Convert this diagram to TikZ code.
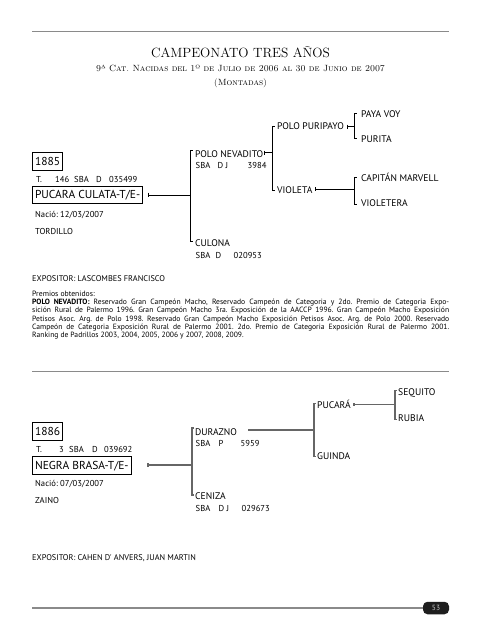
\documentclass[tikz,border=0pt]{standalone}
\usepackage{fontspec}
\newfontfamily\ps{PT Sans}
\newfontfamily\psn{PT Sans}
\newcommand\tb[2]{\makebox[0pt][l]{\hspace{#1pt}#2}}
\definecolor{rulegray}{HTML}{8A8A8A}
\definecolor{pillgray}{HTML}{1E1E1E}
\frenchspacing
\begin{document}
\begin{tikzpicture}[x=1pt,y=-1pt,
  t/.style={anchor=base west, inner sep=0pt, font=\ps\fontsize{9.6}{11}\selectfont},
  ts/.style={anchor=base west, inner sep=0pt, font=\ps\fontsize{8.6}{10}\selectfont},
  tx/.style={anchor=base west, inner sep=0pt, font=\ps\fontsize{8.3}{9}\selectfont},
  bx/.style={draw, line width=0.9pt, anchor=west, inner xsep=2.6pt, inner ysep=0pt,
    text height=8pt, text depth=0pt, font=\psn\fontsize{11.5}{13}\selectfont},
  hd/.style={anchor=base, inner sep=0pt},
  ln/.style={line width=0.8pt, draw=black},
  ln2/.style={line width=1.1pt, draw=black!60},
  rule/.style={line width=1.8pt, draw=rulegray},
]
\useasboundingbox (0,0) rectangle (481,640);

% rules
\coordinate (r1a) at (32,31.5); \coordinate (r1b) at (449,31.5);
\coordinate (r2a) at (32,371.5); \coordinate (r2b) at (449,371.5);
\coordinate (r3a) at (32,608);
\draw[rule] (r1a) -- (r1b);
\draw[rule] (r2a) -- (r2b);

% title
\node[hd, font=\fontsize{13.4}{15}\selectfont\addfontfeatures{FakeBold=1}] (title) at (240.5,57) {CAMPEONATO TRES AÑOS};
\node[hd, font=\fontsize{9}{11}\selectfont\scshape\addfontfeatures{FakeBold=0.8}] (sub) at (240.5,71) {9ª Cat. Nacidas del 1º de Julio de 2006 al 30 de Junio de 2007};
\node[hd, font=\fontsize{9}{11}\selectfont\scshape\addfontfeatures{FakeBold=0.8}] (mont) at (240.5,85.5) {(Montadas)};

% ---------- pedigree 1 ----------
\node[bx, minimum height=18pt] (n1885) at (32,161) {1885};
\node[ts] (reg1) at (35.5,182) {\tb{0}{T.}\tb{19}{146}\tb{38}{SBA}\tb{60}{D}\tb{73}{035499}};
\node[bx, minimum height=17pt] (pucara) at (32,194.5) {PUCARA CULATA-T/E-};
\node[ts] (nac1) at (35,217) {Nació: 12/03/2007};
\node[ts] (col1) at (35,234) {TORDILLO};

\node[t] (polonev) at (195,157) {POLO NEVADITO};
\node[ts] (polonevr) at (195,168.5) {\tb{0}{SBA}\tb{22}{D J}\tb{52}{3984}};
\node[t] (culona) at (195,246) {CULONA};
\node[ts] (culonar) at (195,258.5) {\tb{0}{SBA}\tb{20}{D}\tb{38}{020953}};

\node[t] (puripayo) at (277,129.5) {POLO PURIPAYO};
\node[t] (violeta) at (277,193) {VIOLETA};
\node[t] (payavoy) at (361,117) {PAYA VOY};
\node[t] (purita) at (361,142.5) {PURITA};
\node[t] (capitan) at (361,181) {CAPITÁN MARVELL};
\node[t] (violetera) at (361,206.5) {VIOLETERA};

% connectors ped 1
\coordinate (a0) at (148,195);   \coordinate (a1) at (190,195);
\coordinate (a1t) at (190,150);  \coordinate (a1b) at (190,241);
\draw[ln] (148,192.6) -- (148,197.4);
\draw[ln] (a0) -- (a1);
\draw[ln] ([xshift=2.5pt]a1t) -- (a1t) -- (a1b) -- ([xshift=2.5pt]a1b);

\coordinate (b0) at (264,152.5); \coordinate (b1) at (272,152.5);
\coordinate (b1t) at (272,126.5); \coordinate (b1b) at (272,190.5);
\draw[ln] (264,150.5) -- (264,154.5);
\draw[ln] (b0) -- (b1);
\draw[ln] ([xshift=2.5pt]b1t) -- (b1t) -- (b1b) -- ([xshift=2.5pt]b1b);

\coordinate (c0) at (347,126.5); \coordinate (c1) at (354,126.5);
\coordinate (c1t) at (354,113.5); \coordinate (c1b) at (354,138.5);
\draw[ln] (347,124.5) -- (347,128.5);
\draw[ln] (c0) -- (c1);
\draw[ln] ([xshift=2.5pt]c1t) -- (c1t) -- (c1b) -- ([xshift=2.5pt]c1b);

\coordinate (d0) at (315,189); \coordinate (d1) at (354,189);
\coordinate (d1t) at (354,177); \coordinate (d1b) at (354,204.5);
\draw[ln] (315,187) -- (315,191);
\draw[ln] (d0) -- (d1);
\draw[ln] ([xshift=2.5pt]d1t) -- (d1t) -- (d1b) -- ([xshift=2.5pt]d1b);

% exhibitor & prizes 1
\node[tx] (exp1) at (32,281) {EXPOSITOR: LASCOMBES FRANCISCO};
\node[tx, font=\ps\fontsize{7.7}{9}\selectfont] (prem) at (32,296.5) {Premios obtenidos:};
\node[anchor=base west, inner sep=0pt, text width=417pt, align=justify,
  font=\ps\fontsize{7.6}{8.25}\selectfont] (para) at (32,304.5)
 {\textbf{POLO NEVADITO:} Reservado Gran Campeón Macho, Reservado Campeón de Categoria y 2do. Premio de Categoria Expo-\linebreak
 sición Rural de Palermo 1996. Gran Campeón Macho 3ra. Exposición de la AACCP 1996. Gran Campeón Macho Exposición\linebreak
 Petisos Asoc. Arg. de Polo 1998. Reservado Gran Campeón Macho Exposición Petisos Asoc. Arg. de Polo 2000. Reservado\linebreak
 Campeón de Categoria Exposición Rural de Palermo 2001. 2do. Premio de Categoria Exposición Rural de Palermo 2001.\linebreak
 Ranking de Padrillos 2003, 2004, 2005, 2006 y 2007, 2008, 2009.};

% ---------- pedigree 2 ----------
\node[bx, minimum height=18pt] (n1886) at (32,431) {1886};
\node[ts] (reg2) at (35.5,452) {\tb{0}{T.}\tb{23}{3}\tb{33}{SBA}\tb{56}{D}\tb{68}{039692}};
\node[bx, minimum height=18pt] (negra) at (32,465) {NEGRA BRASA-T/E-};
\node[ts] (nac2) at (35,486.5) {Nació: 07/03/2007};
\node[ts] (col2) at (35,503) {ZAINO};

\node[t] (durazno) at (195,435) {DURAZNO};
\node[ts] (duraznor) at (195,446.5) {\tb{0}{SBA}\tb{23}{P}\tb{45}{5959}};
\node[t] (ceniza) at (195,499) {CENIZA};
\node[ts] (cenizar) at (195,511.5) {\tb{0}{SBA}\tb{23}{D J}\tb{46}{029673}};

\node[t] (pucaraA) at (317,408.5) {PUCARÁ};
\node[t] (guinda) at (317,459.5) {GUINDA};
\node[t] (sequito) at (398,395) {SEQUITO};
\node[t] (rubia) at (398,421.5) {RUBIA};

\coordinate (e0) at (148,465); \coordinate (e1) at (192,465);
\coordinate (e1t) at (192,428); \coordinate (e1b) at (192,495);
\draw[ln2] (148,463.3) -- (148,466.7);
\draw[ln2] (e0) -- (e1);
\draw[ln2] ([xshift=2pt]e1t) -- (e1t) -- (e1b) -- ([xshift=2pt]e1b);

\coordinate (f0) at (248,430); \coordinate (f1) at (314,430);
\coordinate (f1t) at (314,403.5); \coordinate (f1b) at (314,456.5);
\draw[ln2] (f0) -- (f1);
\draw[ln2] ([xshift=2pt]f1t) -- (f1t) -- (f1b) -- ([xshift=2pt]f1b);

\coordinate (g0) at (354,404.5); \coordinate (g1) at (395,404.5);
\coordinate (g1t) at (395,390.5); \coordinate (g1b) at (395,419.5);
\draw[ln2] (354,403) -- (354,406);
\draw[ln2] (g0) -- (g1);
\draw[ln2] ([xshift=2pt]g1t) -- (g1t) -- (g1b) -- ([xshift=2pt]g1b);

\node[tx] (exp2) at (32,560) {EXPOSITOR: CAHEN D' ANVERS, JUAN MARTIN};

% bottom rule and page number
\node[fill=pillgray, rounded corners=4.5pt, minimum width=26pt, minimum height=12.5pt, inner sep=0pt,
  text=white!80!black, font=\ps\fontsize{7.5}{9}\selectfont] (pg) at (436,608) {53};
\draw[rule] (r3a) -- (pg.west);
\end{tikzpicture}
\end{document}
